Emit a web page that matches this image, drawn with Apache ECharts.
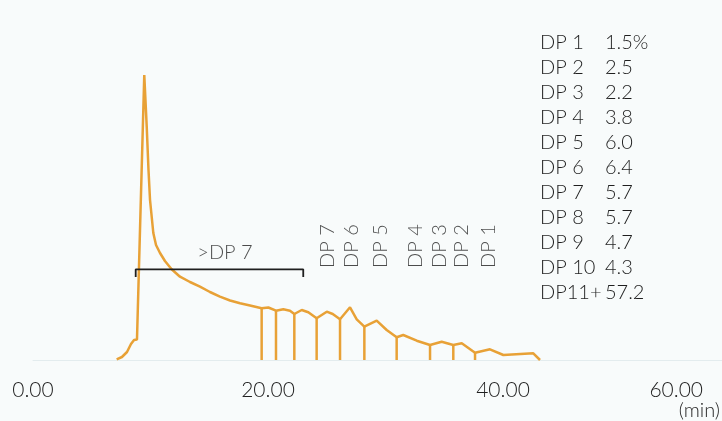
<!DOCTYPE html>
<html>
<head>
<meta charset="utf-8">
<script src="https://cdn.jsdelivr.net/npm/echarts@6/dist/echarts.min.js"></script>
<style>
  html, body { margin: 0; padding: 0; background: #f8fbfb; }
  #chart { width: 722px; height: 421px; }
</style>
</head>
<body>
<div id="chart"></div>
<script>
// Retention time (min) and detector signal of the oligosaccharide trace
const traceTime = [
  7.12, 7.57, 8.00, 8.34, 8.60, 8.85, 9.00, 9.47, 9.68, 9.83, 9.96, 10.24,
  10.47, 10.81, 11.23, 11.80, 12.51, 13.36, 14.21, 15.06, 15.91, 16.77, 17.62,
  18.47, 19.46, 20.03, 20.68, 21.30, 21.87, 22.24, 22.87, 23.43, 24.14, 25.00,
  25.51, 26.13, 26.98, 27.55, 28.20, 29.25, 30.10, 30.95, 31.51, 32.66, 33.79,
  34.78, 35.77, 36.49, 37.62, 38.89, 40.03, 42.58, 43.15
];
const traceSignal = [
  0.7, 3, 8, 16, 20, 20.5, 19.3, 285, 233, 190, 160, 127,
  115, 107, 99, 90.7, 83.3, 78, 73.3, 68, 63.3, 59.5, 56.7,
  54.5, 51.7, 52.5, 49.3, 50.7, 49.3, 46, 50, 47.7, 41.7, 48.3,
  46, 40.7, 52.7, 40.7, 33.3, 39.3, 30, 22.7, 25, 19.3, 15,
  18.3, 15, 16.7, 7.3, 10.7, 5, 6.7, 0
];

// Times where the integration drop lines fall between peaks
const dropTimes = [19.46, 20.68, 22.24, 24.14, 26.13, 28.20, 30.95, 33.79, 35.77, 37.62];

// Peak names written vertically above the resolved peaks
const peakNames = ['DP 7', 'DP 6', 'DP 5', 'DP 4', 'DP 3', 'DP 2', 'DP 1'];
const peakLabelTimes = [25.10, 27.12, 29.62, 32.55, 34.56, 36.49, 38.75];
const peakLabelLevel = 92;

// Bracket spanning the unresolved high-DP region
const bracketName = '>DP 7';
const bracketTimes = [8.74, 23.00];
const bracketLevel = 90.7;
const bracketFoot = 83;
const bracketLabelTime = 16.34;
const bracketLabelLevel = 107;

// Composition table
const dpNames = ['DP 1', 'DP 2', 'DP 3', 'DP 4', 'DP 5', 'DP 6', 'DP 7', 'DP 8', 'DP 9', 'DP 10', 'DP11+'];
const dpPercents = ['1.5%', '2.5', '2.2', '3.8', '6.0', '6.4', '5.7', '5.7', '4.7', '4.3', '57.2'];

// Axis ticks
const xTicks = [0, 20, 40, 60];
const xUnit = '(min)';

const ORANGE = '#e8a136';
const INK = '#1f1f1f';
const FONT = 'Lato, "Noto Sans", sans-serif';

const trace = traceTime.map((t, i) => [t, traceSignal[i]]);
const drops = dropTimes.map(t => [t, traceSignal[traceTime.indexOf(t)]]);
const peakLabels = peakNames.map((n, i) => ({ value: [peakLabelTimes[i], peakLabelLevel], name: n }));
const bracket = [
  [bracketTimes[0], bracketFoot], [bracketTimes[0], bracketLevel],
  [bracketTimes[1], bracketLevel], [bracketTimes[1], bracketFoot]
];

const tableText = [];
dpNames.forEach((n, i) => {
  tableText.push({
    type: 'text', left: 540, top: 33 + i * 25,
    style: { text: n, font: '300 20px ' + FONT, fill: INK }
  });
  tableText.push({
    type: 'text', left: 605, top: 33 + i * 25,
    style: { text: dpPercents[i], font: '300 20px ' + FONT, fill: INK }
  });
});

const lastTick = xTicks[xTicks.length - 1];

const chart = echarts.init(document.getElementById('chart'), null, { renderer: 'canvas' });
chart.setOption({
  backgroundColor: '#f8fbfb',
  animation: false,
  textStyle: { fontFamily: FONT },
  // the 60 min end of the scale sits just past the right edge of the page
  grid: { left: 33, right: -16, top: 60, bottom: 61, outerBoundsMode: 'none', containLabel: false },
  xAxis: {
    type: 'value',
    min: xTicks[0], max: lastTick, interval: xTicks[1] - xTicks[0],
    name: xUnit,
    nameLocation: 'end',
    nameGap: -18,
    nameTextStyle: {
      fontSize: 20, color: INK, fontWeight: 300,
      align: 'right', verticalAlign: 'top', padding: [41, 0, 0, 0]
    },
    axisLine: { show: true, lineStyle: { color: '#e3ecee', width: 1 } },
    axisTick: { show: false },
    splitLine: { show: false },
    axisLabel: {
      fontSize: 21, color: INK, fontWeight: 300, margin: 20,
      alignMaxLabel: 'right',
      formatter: v => (v === lastTick ? '{end|' + v.toFixed(2) + '}' : v.toFixed(2)),
      rich: {
        end: { fontSize: 21, color: INK, fontWeight: 300, padding: [0, 35, 0, 0] }
      }
    }
  },
  yAxis: { type: 'value', min: 0, max: 300, show: false },
  graphic: tableText,
  series: [
    {
      type: 'bar',
      data: drops,
      barWidth: 2.5,
      itemStyle: { color: ORANGE },
      silent: true
    },
    {
      type: 'line',
      data: trace,
      showSymbol: false,
      lineStyle: { color: ORANGE, width: 2.5 },
      silent: true
    },
    {
      type: 'line',
      data: bracket,
      showSymbol: false,
      lineStyle: { color: INK, width: 1.8 },
      silent: true
    },
    {
      type: 'scatter',
      data: [{ value: [bracketLabelTime, bracketLabelLevel], name: bracketName }],
      symbolSize: 0,
      label: {
        show: true, position: 'inside', formatter: '{b}',
        fontSize: 20, color: INK, fontWeight: 300, fontFamily: FONT
      },
      silent: true
    },
    {
      type: 'scatter',
      data: peakLabels,
      symbolSize: 0,
      label: {
        show: true, position: 'inside', formatter: '{b}', rotate: 90,
        align: 'left', verticalAlign: 'middle',
        fontSize: 20, color: INK, fontWeight: 300, fontFamily: FONT
      },
      silent: true
    }
  ]
});
</script>
</body>
</html>
